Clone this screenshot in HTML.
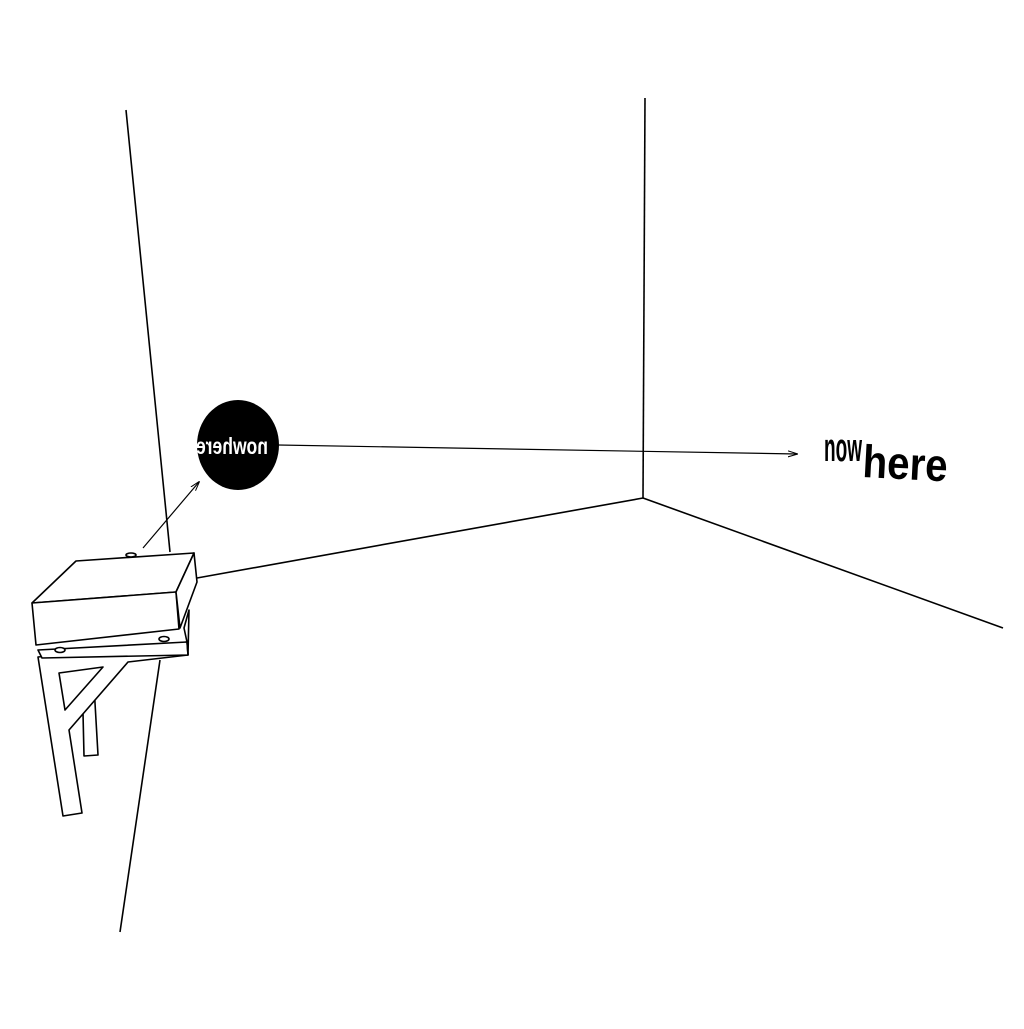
<!DOCTYPE html>
<html><head><style>html,body{margin:0;background:#fff}</style></head><body>
<svg width="1024" height="1024" viewBox="0 0 1024 1024" xmlns="http://www.w3.org/2000/svg">
<defs><marker id="ah" markerWidth="10" markerHeight="8" refX="9" refY="4" orient="auto" markerUnits="userSpaceOnUse"><path d="M0,1 L10,4 L0,7" fill="none" stroke="#000" stroke-width="1"/></marker></defs>
<g stroke="#000" stroke-width="1.6" fill="none" stroke-linejoin="round">
<line x1="126" y1="110" x2="170" y2="552"/>
<line x1="160" y1="660" x2="120" y2="932"/>
<line x1="645" y1="98" x2="643" y2="498"/>
<line x1="197" y1="578" x2="643" y2="498"/>
<line x1="643" y1="498" x2="1003" y2="628"/>
<line x1="278" y1="445" x2="797" y2="454" stroke-width="1.2" marker-end="url(#ah)"/>
<line x1="143" y1="548" x2="199" y2="482" stroke-width="1.2" marker-end="url(#ah)"/>
<g fill="#fff">
<polygon points="82,670 93,668 98,755 84,756"/>
<polygon points="38,657 187,642 188,655 128,662 69,730 82,813 63,816"/>
<polygon points="59,673 103,667 65,710"/>
<polygon points="38,650 187,642 188,655 42,658"/>
<polygon points="184,628 187,642 188,655 189,610"/>
<polygon points="32,603 76,561 194,553 176,592"/>
<polygon points="32,603 176,592 179,629 36,645"/>
<polygon points="176,592 194,553 197,582 180,628"/>
</g>
<ellipse cx="60" cy="650" rx="5" ry="2.5" fill="#fff"/>
<ellipse cx="164" cy="639" rx="5" ry="2.5" fill="#fff"/>
<ellipse cx="131" cy="555" rx="5" ry="2" fill="#fff"/>
</g>
<ellipse cx="238" cy="445" rx="41" ry="45" fill="#000"/>
<text x="0" y="0" transform="translate(232,454) scale(-1,1.15)" text-anchor="middle" font-family="Liberation Sans, sans-serif" font-weight="bold" font-size="20" fill="#fff" textLength="72" lengthAdjust="spacingAndGlyphs">nowhere</text>
<text x="824" y="461" font-family="Liberation Sans, sans-serif" font-weight="bold" font-size="40" textLength="38" lengthAdjust="spacingAndGlyphs">now</text>
<text x="862" y="477" font-family="Liberation Sans, sans-serif" font-weight="bold" font-size="46" textLength="85" lengthAdjust="spacingAndGlyphs" transform="rotate(3 862 477)">here</text>
</svg>
</body></html>
